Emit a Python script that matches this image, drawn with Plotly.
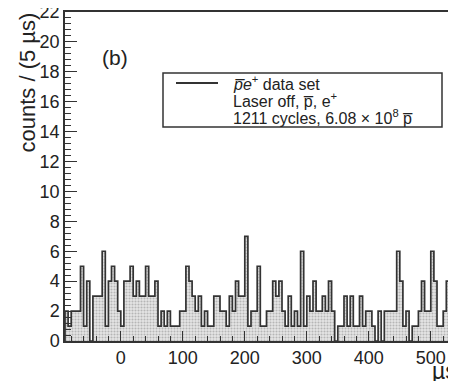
import plotly.graph_objects as go

# ---------------- data ----------------
bin_start = -90          # lower edge of the first bin (µs)
bin_width = 5            # µs per bin
counts = [
    2, 1, 2, 2, 2, 5, 1, 4, 0, 3, 3, 3, 6, 1, 4, 5, 4, 2,      # -90 .. -5
    1, 4, 4, 5, 3, 4, 3, 3, 5, 3, 3, 4, 1, 2, 1, 2, 1, 1,      # 0 .. 85
    1, 2, 2, 5, 4, 3, 2, 3, 1, 2, 1, 1, 3, 3, 2, 2, 1, 3,      # 90 .. 175
    2, 4, 3, 3, 7, 1, 2, 2, 5, 1, 1, 2, 2, 4, 3, 4, 2, 1,      # 180 .. 265
    3, 1, 2, 1, 6, 1, 3, 2, 4, 2, 2, 3, 2, 4, 2, 0, 1, 1,      # 270 .. 355
    3, 1, 3, 1, 1, 3, 1, 2, 2, 1, 0, 2, 0, 2, 2, 2, 2, 6,      # 360 .. 445
    4, 1, 2, 0, 1, 1, 2, 4, 2, 2, 6, 4, 1, 1, 2, 4, 6, 4,      # 450 .. 535
]
x_ticks = [0, 100, 200, 300, 400, 500]
y_ticks = list(range(0, 23, 2))
legend_lines = [
    "<i>p\u0305e</i><sup>+</sup> data set",
    "Laser off, p\u0305, e<sup>+</sup>",
    "1211 cycles, 6.08 \u00d7 10<sup>8</sup> p\u0305",
]
y_title = "counts / (5 \u00b5s)"
x_title = "\u00b5s"
panel_label = "(b)"

# ---------------- figure ----------------
edges = [bin_start + i * bin_width for i in range(len(counts) + 1)]
step_x = [edges[0]] + edges
step_y = [0] + counts + [counts[-1]]

FONT = "Liberation Sans, Arial, sans-serif"
DARK = "#333333"

fig = go.Figure()
fig.add_trace(go.Scatter(
    x=step_x, y=step_y, mode="lines", line_shape="hv",
    line=dict(color=DARK, width=1.7),
    fill="tozeroy", fillcolor="#e4e4e4",
    fillpattern=dict(shape=".", bgcolor="#e6e6e6", fgcolor="#858585",
                     size=3, solidity=0.4),
    showlegend=False, hoverinfo="skip",
))

# page body has an 8 px margin: the figure is drawn from (8, 8)
OFF = 8
W, H = 456 - OFF, 381 - OFF
L, T = 65 - OFF, 12 - OFF
R, B = 0, H - (341 - OFF)
pw, ph = W - L - R, H - T - B


def px(x):          # screen x -> paper
    return (x - 65) / pw


def py(y):          # screen y -> paper
    return (341 - y) / ph


fig.update_layout(
    width=W, height=H,
    margin=dict(l=L, r=R, t=T, b=B, autoexpand=False),
    paper_bgcolor="white", plot_bgcolor="white",
    font=dict(family=FONT, color="#222"),
    xaxis=dict(
        range=[-90, -90 + pw / 0.62], showgrid=False, zeroline=False,
        showline=True, linecolor=DARK, linewidth=1.5, mirror=True,
        ticks="inside", ticklen=10, tickwidth=1, tickcolor=DARK,
        tickvals=x_ticks, ticktext=[str(v) for v in x_ticks],
        tickfont=dict(size=18, family=FONT, color="#222"),
        minor=dict(ticks="inside", ticklen=5, tickwidth=1, tickcolor=DARK,
                   tick0=0, dtick=20),
        automargin=False, ticklabeloverflow="allow",
    ),
    yaxis=dict(
        range=[0, 22], showgrid=False, zeroline=False,
        showline=True, linecolor=DARK, linewidth=1.5, mirror=False,
        ticks="inside", ticklen=12, tickwidth=1, tickcolor=DARK,
        tickvals=y_ticks, ticktext=[str(v) for v in y_ticks],
        tickfont=dict(size=18, family=FONT, color="#222"),
        minor=dict(ticks="inside", ticklen=6, tickwidth=1, tickcolor=DARK,
                   tick0=0, dtick=0.4),
        automargin=False, ticklabeloverflow="allow",
    ),
)

# legend box
fig.add_shape(type="rect", xref="paper", yref="paper",
              x0=px(163), x1=px(442), y0=py(127), y1=py(73),
              line=dict(color=DARK, width=1.5), fillcolor="white", layer="above")
fig.add_shape(type="line", xref="paper", yref="paper",
              x0=px(176), x1=px(218), y0=py(83), y1=py(83),
              line=dict(color=DARK, width=1.8), layer="above")
for i, txt in enumerate(legend_lines):
    fig.add_annotation(xref="paper", yref="paper", x=px(231), y=py(83 + 17 * i),
                       xanchor="left", yanchor="middle", showarrow=False,
                       text=txt, font=dict(size=16, family=FONT, color="#222"))

fig.add_annotation(xref="paper", yref="paper", x=px(115), y=py(57),
                   xanchor="center", yanchor="middle", showarrow=False,
                   text=panel_label, font=dict(size=21, family=FONT, color="#222"))
fig.add_annotation(xref="paper", yref="paper", x=px(27.5), y=py(83),
                   xanchor="center", yanchor="middle", showarrow=False,
                   textangle=-90, text=y_title,
                   font=dict(size=22, family=FONT, color="#222"))
fig.add_annotation(xref="paper", yref="paper", x=px(430), y=py(371),
                   xanchor="left", yanchor="middle", showarrow=False,
                   text=x_title, font=dict(size=23, family=FONT, color="#222"))

fig.write_html("out.html")
